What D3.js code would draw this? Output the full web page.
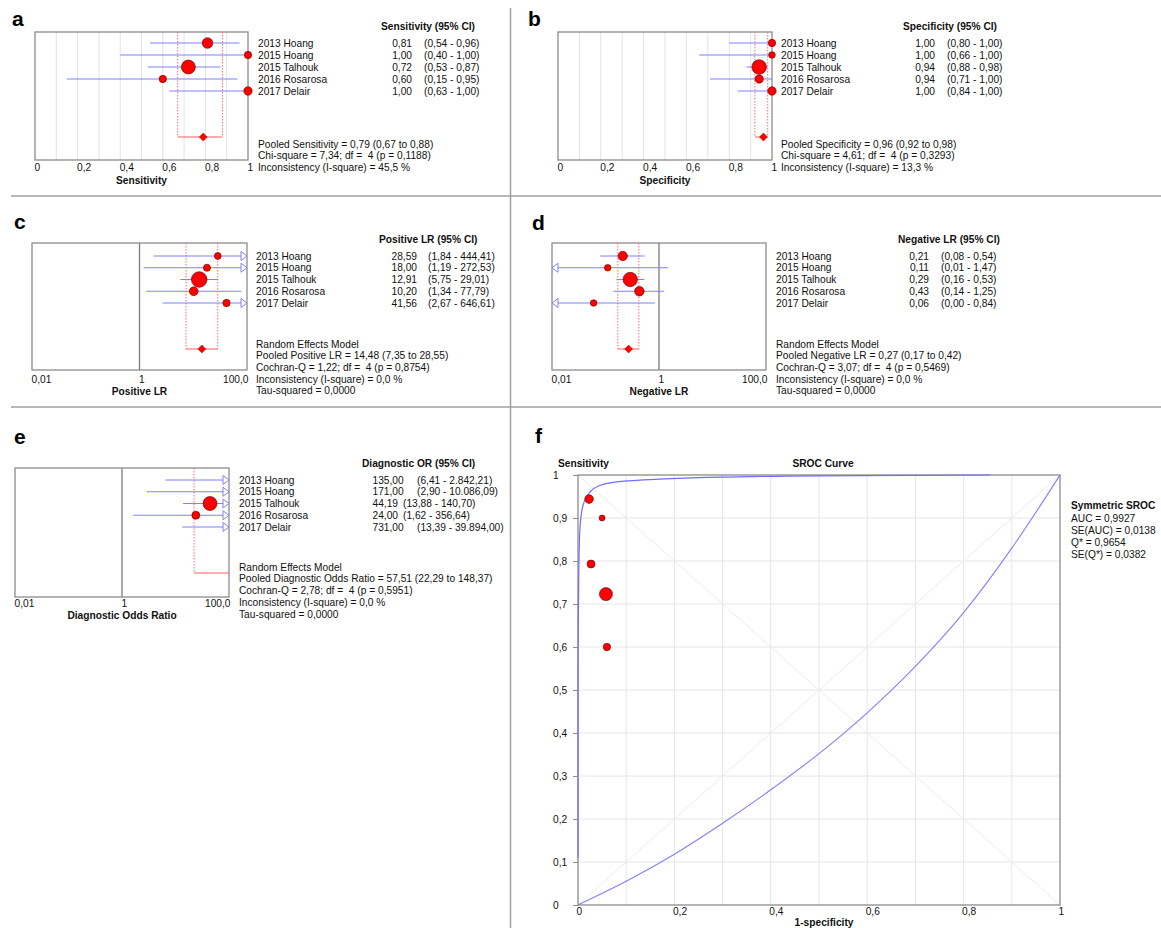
<!DOCTYPE html>
<html>
<head>
<meta charset="utf-8">
<title>Forest plots and SROC curve</title>
<script src="https://cdn.jsdelivr.net/npm/d3@7"></script>
<style>
    body { margin: 0; background: #fff; }
    svg text { font-family: "Liberation Sans", Arial, sans-serif; font-size: 10.2px; fill: #111; white-space: pre; }
    svg text.bold { font-weight: bold; }
    svg text.letter { font-size: 21px; font-weight: bold; fill: #000; }
</style>
</head>
<body>
<svg id="figure" width="1161" height="928"></svg>
<script>
// ---- values ----
let studies = ["2013 Hoang", "2015 Hoang", "2015 Talhouk", "2016 Rosarosa", "2017 Delair"];

let sens = [0.81, 1.00, 0.72, 0.60, 1.00];
let sensLo = [0.54, 0.40, 0.53, 0.15, 0.63];
let sensHi = [0.96, 1.00, 0.87, 0.95, 1.00];
let sensWeight = [23.2, 11.3, 40.5, 11.3, 14.6];
let sensPooled = [0.79, 0.67, 0.88];
let sensStats = ["Pooled Sensitivity = 0,79 (0,67 to 0,88)", "Chi-square = 7,34; df =  4 (p = 0,1188)",
    "Inconsistency (I-square) = 45,5 %"];

let spec = [1.00, 1.00, 0.94, 0.94, 1.00];
let specLo = [0.80, 0.66, 0.88, 0.71, 0.84];
let specHi = [1.00, 1.00, 0.98, 1.00, 1.00];
let specWeight = [11.3, 9.0, 44.0, 14.6, 14.6];
let specPooled = [0.96, 0.92, 0.98];
let specStats = ["Pooled Specificity = 0,96 (0,92 to 0,98)", "Chi-square = 4,61; df =  4 (p = 0,3293)",
    "Inconsistency (I-square) = 13,3 %"];

let plr = [28.59, 18.00, 12.91, 10.20, 41.56];
let plrLo = [1.84, 1.19, 5.75, 1.34, 2.67];
let plrHi = [444.41, 272.53, 29.01, 77.79, 646.61];
let plrWeight = [9.6, 10.7, 50.3, 16.0, 11.3];
let plrPooled = [14.48, 7.35, 28.55];
let plrStats = ["Random Effects Model", "Pooled Positive LR = 14,48 (7,35 to 28,55)",
    "Cochran-Q = 1,22; df =  4 (p = 0,8754)", "Inconsistency (I-square) = 0,0 %", "Tau-squared = 0,0000"];

let nlr = [0.21, 0.11, 0.29, 0.43, 0.06];
let nlrLo = [0.08, 0.01, 0.16, 0.14, 0.00];
let nlrHi = [0.54, 1.47, 0.53, 1.25, 0.84];
let nlrWeight = [18.3, 9.0, 42.8, 19.0, 9.0];
let nlrPooled = [0.27, 0.17, 0.42];
let nlrStats = ["Random Effects Model", "Pooled Negative LR = 0,27 (0,17 to 0,42)",
    "Cochran-Q = 3,07; df =  4 (p = 0,5469)", "Inconsistency (I-square) = 0,0 %", "Tau-squared = 0,0000"];

let dor = [135.00, 171.00, 44.19, 24.00, 731.00];
let dorLo = [6.41, 2.90, 13.88, 1.62, 13.39];
let dorHi = [2842.21, 10086.09, 140.70, 356.64, 39894.00];
let dorWeight = [14.0, 9.0, 40.5, 13.2, 9.0];
let dorPooled = [57.51, 22.29, 148.37];
let dorStats = ["Random Effects Model", "Pooled Diagnostic Odds Ratio = 57,51 (22,29 to 148,37)",
    "Cochran-Q = 2,78; df =  4 (p = 0,5951)", "Inconsistency (I-square) = 0,0 %", "Tau-squared = 0,0000"];

let linTicks = [0, 0.2, 0.4, 0.6, 0.8, 1];
let linTickLabels = ["0", "0,2", "0,4", "0,6", "0,8", "1"];
let logTicks = [0.01, 1, 100];
let logTickLabels = ["0,01", "1", "100,0"];

// SROC panel
let srocFpr = [0.027, 0.050, 0.058, 0.060, 0.023];
let srocTpr = [0.793, 0.900, 0.723, 0.600, 0.944];
let srocWeight = [13.2, 7.4, 34.9, 11.3, 15.3];
let upperFpr = [0, 0, 0.001, 0.003, 0.007, 0.012, 0.023, 0.044, 0.08, 0.16, 0.3, 0.5, 0.855];
let upperTpr = [0.11, 0.5, 0.7, 0.85, 0.91, 0.935, 0.958, 0.975, 0.984, 0.99, 0.995, 0.998, 1.0];
let lowerFpr = [0, 0.1, 0.2, 0.3, 0.4, 0.5, 0.6, 0.7, 0.8, 0.9, 1];
let lowerTpr = [0, 0.055, 0.118, 0.19, 0.268, 0.352, 0.447, 0.555, 0.68, 0.83, 1.0];
let srocYTicks = [0, 0.1, 0.2, 0.3, 0.4, 0.5, 0.6, 0.7, 0.8, 0.9, 1];
let srocYTickLabels = ["0", "0,1", "0,2", "0,3", "0,4", "0,5", "0,6", "0,7", "0,8", "0,9", "1"];
let srocXTicks = [0, 0.2, 0.4, 0.6, 0.8, 1];
let srocXTickLabels = ["0", "0,2", "0,4", "0,6", "0,8", "1"];
let srocStats = ["AUC = 0,9927", "SE(AUC) = 0,0138", "Q* = 0,9654", "SE(Q*) = 0,0382"];

let svg = d3.select("#figure");
let fmt = d3.formatLocale({decimal: ",", thousands: ".", grouping: [3], currency: ["", ""]}).format(",.2f");
let ciBlue = "#8080ff";

/**
 * Draws one forest plot with its side table
 * @param p layout + data for the panel
 */
function forestPanel(p) {
    let g = svg.append("g");
    let [bx0, bx1, by0, by1] = p.box;
    let x = (p.log ? d3.scaleLog().domain([0.01, 100]) : d3.scaleLinear().domain([0, 1]))
        .range([bx0, bx1]);
    let y = d3.scaleLinear().domain([0, studies.length - 1])
        .range([p.rowY, p.rowY + (studies.length - 1) * p.rowStep]);
    let r = d3.scaleSqrt().domain([0, 100]).range([0, 11]);
    let [dMin, dMax] = x.domain();
    let inside = v => v >= dMin && v <= dMax;
    let xc = v => x(Math.min(dMax, Math.max(dMin, v)));
    let rows = studies.map((name, i) => ({name: name, i: i, est: p.est[i], lo: p.lo[i], hi: p.hi[i], w: p.weight[i]}));

    g.append("text").attr("class", "letter").attr("x", p.letterX).attr("y", p.letterY).text(p.letter);

    if (!p.log) {
        g.selectAll("line.grid").data(d3.range(1, 10).map(k => k / 10)).join("line")
            .attr("class", "grid")
            .attr("x1", d => x(d)).attr("x2", d => x(d))
            .attr("y1", by0).attr("y2", by1)
            .attr("stroke", "#e2e2e2");
    } else {
        g.append("line")
            .attr("x1", x(1)).attr("x2", x(1)).attr("y1", by0).attr("y2", by1)
            .attr("stroke", "#7a7a7a").attr("stroke-width", 1.3);
    }
    g.append("rect")
        .attr("x", bx0).attr("y", by0).attr("width", bx1 - bx0).attr("height", by1 - by0)
        .attr("fill", "none").attr("stroke", "#8c8c8c").attr("stroke-width", 1.3);

    // pooled estimate box
    let [pe, pl, ph] = p.pooled;
    g.selectAll("line.pool").data([pl, ph].filter(inside)).join("line")
        .attr("class", "pool")
        .attr("x1", d => x(d)).attr("x2", d => x(d))
        .attr("y1", by0).attr("y2", p.poolY)
        .attr("stroke", "#ff6a6a").attr("stroke-dasharray", "1.5,1.5");
    g.append("line")
        .attr("x1", xc(pl)).attr("x2", xc(ph)).attr("y1", p.poolY).attr("y2", p.poolY)
        .attr("stroke", "#ff5a5a");
    if (inside(pl) && inside(ph)) {
        let cx = x(pe), cy = p.poolY;
        g.append("path")
            .attr("d", `M${cx},${cy - 4}L${cx + 4},${cy}L${cx},${cy + 4}L${cx - 4},${cy}Z`)
            .attr("fill", "#ff0000").attr("stroke", "#b00000").attr("stroke-width", 0.5);
    }

    // confidence intervals
    let arrowLen = 6;
    let lowCut = d => p.log && d.lo <= dMin;
    let highCut = d => p.log && d.hi >= dMax;
    g.selectAll("line.ci").data(rows).join("line")
        .attr("class", "ci")
        .attr("x1", d => xc(d.lo) + (lowCut(d) ? arrowLen : 0))
        .attr("x2", d => xc(d.hi) - (highCut(d) ? arrowLen : 0))
        .attr("y1", d => y(d.i)).attr("y2", d => y(d.i))
        .attr("stroke", ciBlue);
    let arrows = rows.filter(lowCut).map(d => ({i: d.i, tip: bx0, dir: -1}))
        .concat(rows.filter(highCut).map(d => ({i: d.i, tip: bx1, dir: 1})));
    g.selectAll("path.arrow").data(arrows).join("path")
        .attr("class", "arrow")
        .attr("d", d => {
            let yy = y(d.i), b = d.tip - d.dir * arrowLen;
            return `M${d.tip},${yy}L${b},${yy - 4.5}L${b},${yy + 4.5}Z`;
        })
        .attr("fill", "#fff").attr("stroke", ciBlue);

    g.selectAll("circle.study").data(rows.filter(d => inside(d.est))).join("circle")
        .attr("class", "study")
        .attr("cx", d => x(d.est)).attr("cy", d => y(d.i))
        .attr("r", d => r(d.w))
        .attr("fill", "#ff0000").attr("stroke", "#5a0000").attr("stroke-width", 0.6);

    // side table
    g.append("text").attr("class", "bold")
        .attr("x", p.headX).attr("y", p.headY).attr("dy", "0.35em").text(p.head);
    g.selectAll("text.name").data(rows).join("text")
        .attr("class", "name")
        .attr("x", p.nameX).attr("y", d => y(d.i)).attr("dy", "0.35em").text(d => d.name);
    g.selectAll("text.val").data(rows).join("text")
        .attr("class", "val")
        .attr("x", p.valX).attr("y", d => y(d.i)).attr("dy", "0.35em")
        .attr("text-anchor", p.valAnchor)
        .text(d => fmt(d.est));
    g.selectAll("text.ci").data(rows).join("text")
        .attr("class", "ci")
        .attr("x", p.ciX).attr("y", d => y(d.i)).attr("dy", "0.35em")
        .text(d => "(" + fmt(d.lo) + " - " + fmt(d.hi) + ")");
    g.selectAll("text.stat").data(p.stats).join("text")
        .attr("class", "stat")
        .attr("x", p.nameX).attr("y", (d, i) => p.statsY + i * p.statsStep).attr("dy", "0.35em")
        .text(d => d);

    // axis
    let axis = d3.axisBottom(x).tickValues(p.ticks).tickFormat((d, i) => p.tickLabels[i]).tickSize(0);
    let ax = g.append("g").attr("transform", `translate(0,${p.tickY})`).call(axis);
    ax.select(".domain").remove();
    ax.selectAll("line").remove();
    ax.selectAll("text")
        .attr("y", 0).attr("dy", "0.35em").attr("dx", -1)
        .attr("text-anchor", (d, i) => p.log && i === p.ticks.length - 1 ? "end" : "start");
    if (p.log) ax.selectAll("text").filter((d, i) => i === p.ticks.length - 1).attr("dx", 1);
    g.append("text").attr("class", "bold")
        .attr("x", (bx0 + bx1) / 2).attr("y", p.axisTitleY).attr("dy", "0.35em")
        .attr("text-anchor", "middle").text(p.axisTitle);
}

/**
 * Draws the SROC panel
 */
function srocPanel() {
    let g = svg.append("g");
    let x = d3.scaleLinear().domain([0, 1]).range([578, 1060]);
    let y = d3.scaleLinear().domain([0, 1]).range([905, 475]);
    let r = d3.scaleSqrt().domain([0, 100]).range([0, 11]);
    let inner = d3.range(1, 10).map(k => k / 10);

    g.append("text").attr("class", "letter").attr("x", 535).attr("y", 443).text("f");

    g.selectAll("line.vgrid").data(inner).join("line")
        .attr("class", "vgrid")
        .attr("x1", d => x(d)).attr("x2", d => x(d)).attr("y1", y(0)).attr("y2", y(1))
        .attr("stroke", "#e6e6e6");
    g.selectAll("line.hgrid").data(inner).join("line")
        .attr("class", "hgrid")
        .attr("x1", x(0)).attr("x2", x(1)).attr("y1", d => y(d)).attr("y2", d => y(d))
        .attr("stroke", "#e6e6e6");
    g.selectAll("line.diag").data([[0, 0, 1, 1], [0, 1, 1, 0]]).join("line")
        .attr("class", "diag")
        .attr("x1", d => x(d[0])).attr("y1", d => y(d[1]))
        .attr("x2", d => x(d[2])).attr("y2", d => y(d[3]))
        .attr("stroke", "#ebebeb");

    let lower = lowerFpr.map((f, i) => [f, lowerTpr[i]]);
    let upper = upperFpr.map((f, i) => [f, upperTpr[i]]);
    g.append("path")
        .attr("d", d3.line().x(d => x(d[0])).y(d => y(d[1])).curve(d3.curveMonotoneX)(lower))
        .attr("fill", "none").attr("stroke", ciBlue).attr("stroke-width", 1.1);

    g.append("rect")
        .attr("x", x(0)).attr("y", y(1)).attr("width", x(1) - x(0)).attr("height", y(0) - y(1))
        .attr("fill", "none").attr("stroke", "#8c8c8c").attr("stroke-width", 1.3);

    g.append("path")
        .attr("d", d3.line().x(d => x(d[0])).y(d => y(d[1])).curve(d3.curveMonotoneY)(upper))
        .attr("fill", "none").attr("stroke", "#6f6fff").attr("stroke-width", 1.2);

    let yAxis = d3.axisLeft(y).tickValues(srocYTicks).tickFormat((d, i) => srocYTickLabels[i]).tickSize(5);
    let ay = g.append("g").attr("transform", `translate(${x(0)},0)`).call(yAxis);
    ay.select(".domain").remove();
    ay.selectAll("line").attr("stroke", "#8c8c8c");
    ay.selectAll("text").attr("x", 553 - x(0)).attr("text-anchor", "start");

    let xAxis = d3.axisBottom(x).tickValues(srocXTicks).tickFormat((d, i) => srocXTickLabels[i]).tickSize(0);
    let axx = g.append("g").attr("transform", `translate(0,${y(0)})`).call(xAxis);
    axx.select(".domain").remove();
    axx.selectAll("line").remove();
    axx.selectAll("text").attr("y", 6).attr("dy", "0.35em").attr("dx", -2).attr("text-anchor", "start");

    let pts = studies.map((s, i) => ({fpr: srocFpr[i], tpr: srocTpr[i], w: srocWeight[i]}));
    g.selectAll("circle.pt").data(pts).join("circle")
        .attr("class", "pt")
        .attr("cx", d => x(d.fpr)).attr("cy", d => y(d.tpr)).attr("r", d => r(d.w))
        .attr("fill", "#ff0000").attr("stroke", "#5a0000").attr("stroke-width", 0.6);

    g.append("text").attr("class", "bold").attr("x", 558).attr("y", 463).attr("dy", "0.35em").text("Sensitivity");
    g.append("text").attr("class", "bold").attr("x", 823).attr("y", 463).attr("dy", "0.35em")
        .attr("text-anchor", "middle").text("SROC Curve");
    g.append("text").attr("class", "bold").attr("x", 824).attr("y", 922).attr("dy", "0.35em")
        .attr("text-anchor", "middle").text("1-specificity");
    g.append("text").attr("class", "bold").attr("x", 1071).attr("y", 505).attr("dy", "0.35em").text("Symmetric SROC");
    g.selectAll("text.sstat").data(srocStats).join("text")
        .attr("class", "sstat")
        .attr("x", 1071).attr("y", (d, i) => 518 + i * 12.2).attr("dy", "0.35em").text(d => d);
}

// panel dividers
svg.selectAll("line.divider").data([[11, 196, 1161, 196], [11, 407, 1161, 407], [510.5, 8, 510.5, 928]])
    .join("line")
    .attr("class", "divider")
    .attr("x1", d => d[0]).attr("y1", d => d[1]).attr("x2", d => d[2]).attr("y2", d => d[3])
    .attr("stroke", "#a0a0a0").attr("stroke-width", 1.5);

forestPanel({letter: "a", letterX: 12, letterY: 26, box: [35, 248, 32, 160], log: false,
    est: sens, lo: sensLo, hi: sensHi, weight: sensWeight, pooled: sensPooled, stats: sensStats,
    rowY: 43, rowStep: 12, poolY: 137, head: "Sensitivity (95% CI)", headX: 381, headY: 26,
    nameX: 258, valX: 412, valAnchor: "end", ciX: 424, statsY: 144, statsStep: 11.5,
    ticks: linTicks, tickLabels: linTickLabels, tickY: 167, axisTitle: "Sensitivity", axisTitleY: 180});

forestPanel({letter: "b", letterX: 528, letterY: 26, box: [558, 772, 32, 160], log: false,
    est: spec, lo: specLo, hi: specHi, weight: specWeight, pooled: specPooled, stats: specStats,
    rowY: 43, rowStep: 12, poolY: 137, head: "Specificity (95% CI)", headX: 903, headY: 26,
    nameX: 781, valX: 935, valAnchor: "end", ciX: 947, statsY: 144, statsStep: 11.5,
    ticks: linTicks, tickLabels: linTickLabels, tickY: 167, axisTitle: "Specificity", axisTitleY: 180});

forestPanel({letter: "c", letterX: 14, letterY: 229, box: [32, 247, 243, 370], log: true,
    est: plr, lo: plrLo, hi: plrHi, weight: plrWeight, pooled: plrPooled, stats: plrStats,
    rowY: 256, rowStep: 11.75, poolY: 349, head: "Positive LR (95% CI)", headX: 379, headY: 239,
    nameX: 256, valX: 417, valAnchor: "end", ciX: 428, statsY: 344, statsStep: 11.7,
    ticks: logTicks, tickLabels: logTickLabels, tickY: 379, axisTitle: "Positive LR", axisTitleY: 391});

forestPanel({letter: "d", letterX: 532, letterY: 230, box: [552, 766, 243, 370], log: true,
    est: nlr, lo: nlrLo, hi: nlrHi, weight: nlrWeight, pooled: nlrPooled, stats: nlrStats,
    rowY: 256, rowStep: 11.75, poolY: 349, head: "Negative LR (95% CI)", headX: 898, headY: 239,
    nameX: 776, valX: 929, valAnchor: "end", ciX: 941, statsY: 344, statsStep: 11.7,
    ticks: logTicks, tickLabels: logTickLabels, tickY: 379, axisTitle: "Negative LR", axisTitleY: 391});

forestPanel({letter: "e", letterX: 14, letterY: 444, box: [15, 229, 468, 597], log: true,
    est: dor, lo: dorLo, hi: dorHi, weight: dorWeight, pooled: dorPooled, stats: dorStats,
    rowY: 480, rowStep: 11.75, poolY: 573, head: "Diagnostic OR (95% CI)", headX: 362, headY: 463,
    nameX: 239, valX: 372.5, valAnchor: "start", ciX: d => d.est >= 100 ? 417 : 403,
    statsY: 567, statsStep: 11.8,
    ticks: logTicks, tickLabels: logTickLabels, tickY: 603, axisTitle: "Diagnostic Odds Ratio", axisTitleY: 615});

srocPanel();
</script>
</body>
</html>
